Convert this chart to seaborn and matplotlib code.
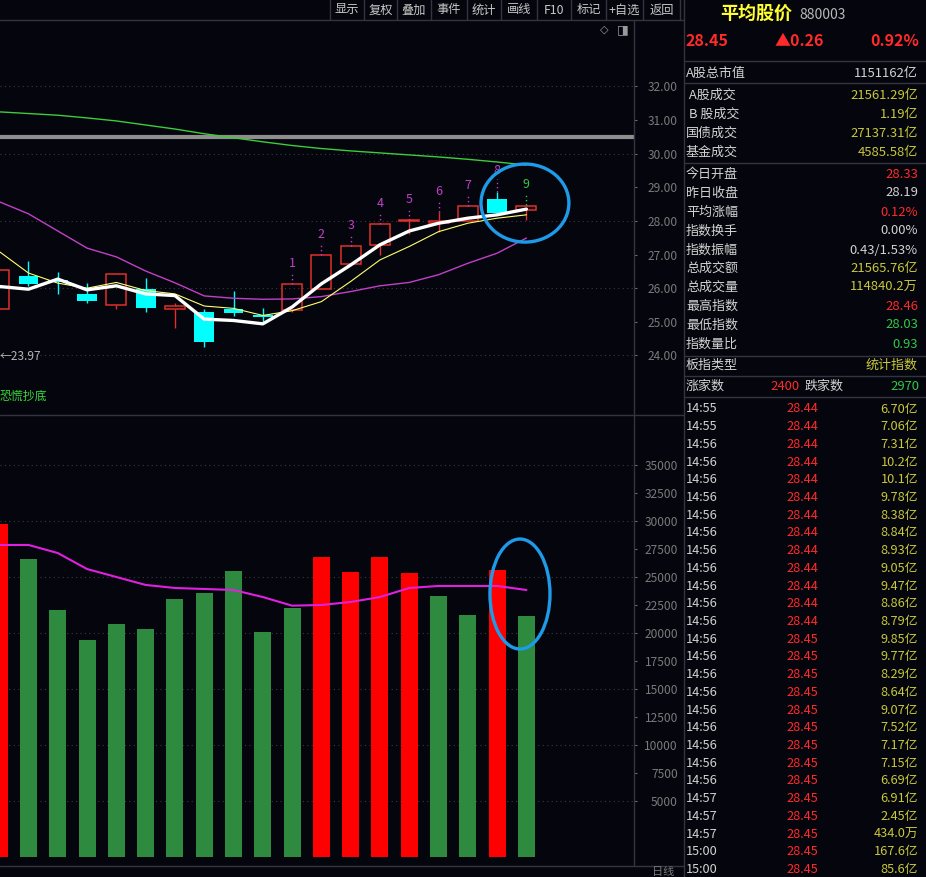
import numpy as np
import pandas as pd
import matplotlib
matplotlib.use('Agg')
import matplotlib.pyplot as plt
import seaborn as sns
from matplotlib.patches import Ellipse

# ---- data ----
opens  = [25.39, 26.35, 26.21, 25.83, 25.49, 25.98, 25.38, 25.29, 25.38, 25.19,
          25.36, 25.97, 26.71, 27.28, 28.00, 27.93, 28.01, 28.65, 28.33]
closes = [26.54, 26.13, 26.19, 25.63, 26.42, 25.42, 25.47, 24.41, 25.27, 25.14,
          26.12, 26.98, 27.25, 27.91, 28.02, 28.00, 28.43, 28.23, 28.45]
highs  = [26.54, 26.81, 26.48, 26.15, 26.42, 26.31, 25.57, 25.38, 25.91, 25.41,
          26.12, 26.98, 27.25, 27.91, 28.02, 28.25, 28.43, 28.87, 28.46]
lows   = [25.39, 26.05, 25.82, 25.57, 25.38, 25.28, 24.81, 24.26, 25.16, 24.96,
          25.29, 25.97, 26.71, 26.99, 27.61, 27.68, 28.01, 28.23, 28.03]
ma5  = [26.05, 25.97, 26.27, 25.95, 26.07, 25.83, 25.78, 25.08, 25.04, 24.94,
        25.44, 26.13, 26.69, 27.29, 27.70, 27.93, 28.08, 28.18, 28.35]
ma10 = [27.09, 26.45, 26.15, 26.00, 26.17, 25.93, 25.83, 25.47, 25.40, 25.19,
        25.33, 25.60, 26.20, 26.84, 27.24, 27.68, 27.93, 28.08, 28.18]
ma20 = [28.57, 28.21, 27.70, 27.19, 26.93, 26.51, 26.16, 25.77, 25.70, 25.67,
        25.68, 25.75, 25.90, 26.07, 26.17, 26.40, 26.74, 27.04, 27.49]
ma60 = [31.24, 31.19, 31.14, 31.06, 30.97, 30.85, 30.73, 30.59, 30.47, 30.35,
        30.24, 30.15, 30.08, 30.02, 29.96, 29.90, 29.83, 29.75, 29.66]
ref_level = 30.48
count_labels = ['1', '2', '3', '4', '5', '6', '7', '8', '9']   # on the last 9 bars

volumes = [29730, 26600, 22050, 19375, 20800, 20360, 23040, 23570, 25540, 20090,
           22230, 26800, 25450, 26790, 25360, 23300, 21600, 25625, 21500]
vol_dir = ['up', 'down', 'down', 'down', 'down', 'down', 'down', 'down', 'down', 'down',
           'down', 'up', 'up', 'up', 'up', 'down', 'down', 'up', 'down']
vol_ma = [27860, 27860, 27140, 25710, 25000, 24290, 24020, 23930, 23840, 23210,
          22440, 22500, 22770, 23210, 24020, 24200, 24200, 24200, 23840]

price_ticks = [24, 25, 26, 27, 28, 29, 30, 31, 32]
vol_ticks = list(range(5000, 35001, 2500))

toolbar = ['显示', '复权', '叠加', '事件', '统计', '画线', 'F10', '标记', '+自选', '返回']

quote_name, quote_code = '平均股价', '880003'
quote_last, quote_chg, quote_pct = '28.45', '▲0.26', '0.92%'
info_rows = [
    ('A股总市值', '1151162亿', 'w'),
    (' A股成交', '21561.29亿', 'y'),
    (' B 股成交', '1.19亿', 'y'),
    ('国债成交', '27137.31亿', 'y'),
    ('基金成交', '4585.58亿', 'y'),
    ('今日开盘', '28.33', 'r'),
    ('昨日收盘', '28.19', 'w'),
    ('平均涨幅', '0.12%', 'r'),
    ('指数换手', '0.00%', 'w'),
    ('指数振幅', '0.43/1.53%', 'w'),
    ('总成交额', '21565.76亿', 'y'),
    ('总成交量', '114840.2万', 'y'),
    ('最高指数', '28.46', 'r'),
    ('最低指数', '28.03', 'g'),
    ('指数量比', '0.93', 'g'),
    ('板指类型', '统计指数', 'y'),
]
up_count, down_count = '2400', '2970'

tick_times = ['14:55', '14:55'] + ['14:56'] * 20 + ['14:57'] * 3 + ['15:00'] * 2
tick_prices = ['28.44'] * 13 + ['28.45'] * 14
tick_amounts = ['6.70亿', '7.06亿', '7.31亿', '10.2亿', '10.1亿', '9.78亿', '8.38亿',
                '8.84亿', '8.93亿', '9.05亿', '9.47亿', '8.86亿', '8.79亿', '9.85亿',
                '9.77亿', '8.29亿', '8.64亿', '9.07亿', '7.52亿', '7.17亿', '7.15亿',
                '6.69亿', '6.91亿', '2.45亿', '434.0万', '167.6亿', '85.6亿']

# ---- style ----
BG = '#05050d'
LINE = '#34343e'
AXTXT = '#7a7a7a'
RED = '#ff2a2a'
CRED = '#e0302a'
CYAN = '#00ffff'
VGREEN = '#2d8a3e'
YEL = '#c8c83a'
WHT = '#d2d2d2'
GRN = '#30c848'
MAG = '#c040c8'
BLUE = '#1e9be8'

sns.set_theme(style='dark', rc={'axes.facecolor': BG, 'figure.facecolor': BG,
                                'savefig.facecolor': BG})
plt.rcParams['font.family'] = ['Noto Sans CJK SC', 'DejaVu Sans']

W, H = 926, 877
fig = plt.figure(figsize=(W / 100, H / 100), dpi=100)


def px_axes(x0, y0, x1, y1):
    return fig.add_axes([x0 / W, 1 - y1 / H, (x1 - x0) / W, (y1 - y0) / H])


ax_p = px_axes(0, 20, 634, 412)
ax_v = px_axes(0, 416, 634, 866)

n = len(closes)
idx = np.arange(n)
step = 29.29
xlim = (0.8 / step, 634.8 / step)

# ---- price panel ----
for lv in range(24, 33, 2):
    ax_p.axhline(lv, color='#3a3a46', lw=0.8, ls=(0, (1, 3)), zorder=0)
ax_p.axhline(ref_level, color='#8e8e8e', lw=3, zorder=1)

cw = 0.68
for i in idx:
    o, c, h, l = opens[i], closes[i], highs[i], lows[i]
    lo, hi = min(o, c), max(o, c)
    if c >= o:
        ax_p.bar(i, max(hi - lo, 0.04), bottom=lo, width=cw, fill=False,
                 edgecolor=CRED, linewidth=1.1, zorder=3)
        ax_p.vlines(i, hi, h, color=CRED, lw=1, zorder=3)
        ax_p.vlines(i, l, lo, color=CRED, lw=1, zorder=3)
    else:
        ax_p.vlines(i, l, h, color=CYAN, lw=1, zorder=2)
        ax_p.bar(i, max(hi - lo, 0.04), bottom=lo, width=cw, color=CYAN,
                 linewidth=0, zorder=3)

sns.lineplot(x=idx, y=ma60, ax=ax_p, color='#3ccc3c', lw=1, zorder=4)
sns.lineplot(x=idx, y=ma20, ax=ax_p, color=MAG, lw=1, zorder=4)
sns.lineplot(x=idx, y=ma10, ax=ax_p, color='#ffff70', lw=0.8, zorder=4)
sns.lineplot(x=idx, y=ma5, ax=ax_p, color='white', lw=2.4, zorder=5)

start = n - len(count_labels)
for k, lab in enumerate(count_labels):
    i = start + k
    col = GRN if k == len(count_labels) - 1 else MAG
    ax_p.vlines(i, highs[i], highs[i] + 0.36, color=col, lw=1, ls=(0, (1, 2)), zorder=3)
    ax_p.text(i, highs[i] + 0.62, lab, color=col, fontsize=9, ha='center', va='center',
              zorder=6)

ax_p.add_patch(Ellipse((17.95, 28.53), 3.0, 2.32, fill=False, edgecolor=BLUE,
                       lw=2.4, zorder=7, clip_on=False))

ax_p.set_xlim(*xlim)
ax_p.set_ylim(22.32, 33.97)
ax_p.set_yticks(price_ticks)
ax_p.set_yticklabels([f'{t:.2f}' for t in price_ticks])

# ---- volume panel ----
for lv in range(5000, 35001, 5000):
    ax_v.axhline(lv, color='#3a3a46', lw=0.8, ls=(0, (1, 3)), zorder=0)

vdf = pd.DataFrame({'idx': idx, 'vol': volumes, 'dir': vol_dir})
sns.barplot(data=vdf, x='idx', y='vol', hue='dir', palette={'up': '#ff0000', 'down': VGREEN},
            dodge=False, width=0.58, saturation=1, linewidth=0, errorbar=None,
            legend=False, ax=ax_v, zorder=2)
sns.lineplot(x=idx, y=vol_ma, ax=ax_v, color='#e020e0', lw=1.5, zorder=4)
ax_v.add_patch(Ellipse((17.78, 23480), 2.05, 9820, fill=False, edgecolor=BLUE,
                       lw=2.4, zorder=7, clip_on=False))

ax_v.set_xlim(*xlim)
ax_v.set_ylim(-804, 39375)
ax_v.set_yticks(vol_ticks)
ax_v.set_yticklabels([str(t) for t in vol_ticks])

for ax in (ax_p, ax_v):
    ax.set_xlabel('')
    ax.set_ylabel('')
    ax.set_xticks([])
    for s in ax.spines.values():
        s.set_visible(False)
    ax.yaxis.tick_right()
    ax.tick_params(axis='y', which='both', right=True, left=False, length=2.2, width=0.8,
                   color='#6a6a6a', labelcolor=AXTXT, labelsize=8.6, pad=29.5)
    for lbl in ax.get_yticklabels():
        lbl.set_horizontalalignment('right')
    ax.grid(False)

# ---- overlay: frame, toolbar, side panel ----
ov = fig.add_axes([0, 0, 1, 1], zorder=10)
ov.set_xlim(0, W)
ov.set_ylim(H, 0)
ov.axis('off')
ov.patch.set_alpha(0)

ov.plot([0, 684], [20, 20], color=LINE, lw=1)
ov.plot([0, 684], [414.5, 414.5], color=LINE, lw=1)
ov.plot([0, 684], [866, 866], color=LINE, lw=1)
ov.plot([634, 634], [20, 866], color=LINE, lw=1)
ov.plot([684, 684], [0, H], color=LINE, lw=1)

tb_edges = [330, 364, 397, 431, 467, 501, 537, 571, 606, 643, 680]
for x in tb_edges:
    ov.plot([x, x], [0, 20], color=LINE, lw=1)
for k, lab in enumerate(toolbar):
    ov.text((tb_edges[k] + tb_edges[k + 1]) / 2, 10, lab, color='#c8c8c8', fontsize=8.8,
            ha='center', va='center')
ov.text(604, 30, '◇', color='#9a9a9a', fontsize=8, ha='center', va='center',
        family=['DejaVu Sans'])
ov.text(623, 30, '◨', color='#9a9a9a', fontsize=9, ha='center', va='center',
        family=['DejaVu Sans'])

ov.text(0, 356, '←23.97', color='#b4b4b4', fontsize=8.6, ha='left', va='center')
ov.text(0, 396, '恐慌抄底', color='#38d838', fontsize=8.6, ha='left', va='center')
ov.text(663, 872, '日线', color=AXTXT, fontsize=8, ha='center', va='center')

colors = {'w': WHT, 'y': YEL, 'r': RED, 'g': GRN}
ov.text(720, 13, quote_name, color='#ffff30', fontsize=13, fontweight='bold',
        ha='left', va='center')
ov.text(799, 15, quote_code, color='#b8b8b8', fontsize=10, ha='left', va='center')
ov.text(686, 41, quote_last, color=RED, fontsize=11.5, fontweight='bold', ha='left', va='center')
ov.text(799, 41, quote_chg, color=RED, fontsize=11.5, fontweight='bold', ha='center', va='center')
ov.text(919, 41, quote_pct, color=RED, fontsize=11.5, fontweight='bold', ha='right', va='center')

for y in [61, 83, 162.5, 355.5, 375.5, 397]:
    ov.plot([684, W], [y, y], color=LINE, lw=1)

row_y = [73, 95.5, 114.5, 133.5, 152.5, 174, 193, 212, 231, 250, 268.5, 287.5,
         306, 325, 344, 365]
for (lab, val, c), y in zip(info_rows, row_y):
    ov.text(686, y, lab, color=WHT, fontsize=9.4, ha='left', va='center')
    ov.text(918, y, val, color=colors[c], fontsize=9.4, ha='right', va='center')

ov.text(686, 386, '涨家数', color=WHT, fontsize=9.4, ha='left', va='center')
ov.text(800, 386, up_count, color=RED, fontsize=9.4, ha='right', va='center')
ov.text(805, 386, '跌家数', color=WHT, fontsize=9.4, ha='left', va='center')
ov.text(919, 386, down_count, color=GRN, fontsize=9.4, ha='right', va='center')

row_step = (869.5 - 409) / (len(tick_times) - 1)
for k, (t, p, a) in enumerate(zip(tick_times, tick_prices, tick_amounts)):
    y = 409 + row_step * k
    ov.text(686, y, t, color=WHT, fontsize=9.2, ha='left', va='center')
    ov.text(802, y, p, color=RED, fontsize=9.2, ha='center', va='center')
    ov.text(918, y, a, color=YEL, fontsize=9.2, ha='right', va='center')

fig.savefig('out.png', dpi=100, facecolor=BG)
